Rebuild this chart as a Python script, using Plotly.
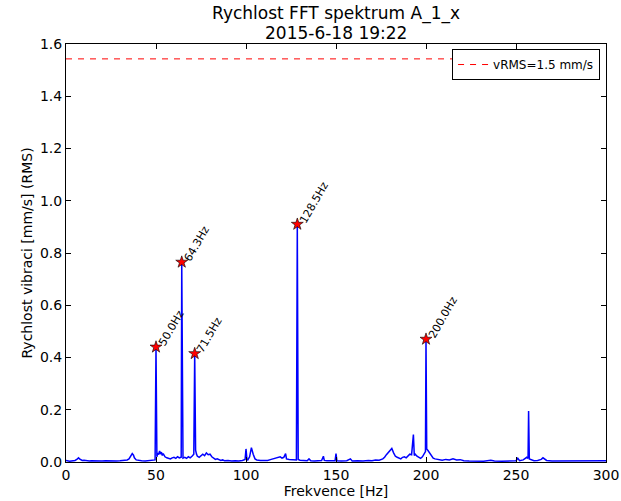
import plotly.graph_objects as go

# Spectrum (frequency [Hz], amplitude [mm/s RMS])
freq = [0.0, 1.0, 2.0, 3.0, 4.0, 5.0, 6.0, 7.0, 7.5, 8.0, 9.0, 10.0, 11.0, 12.0, 13.0, 14.0,
        16.0, 18.0, 20.0, 22.0, 24.0, 26.0, 28.0, 30.0, 32.0, 34.0, 35.0, 36.0, 36.8, 37.5,
        38.0, 39.0, 40.0, 42.0, 44.0, 46.0, 48.0, 49.5, 50.0, 50.5, 51.0, 51.5, 52.0, 52.5,
        53.0, 53.5, 54.0, 55.0, 56.0, 57.0, 58.0, 59.0, 60.0, 61.0, 62.0, 63.0, 64.0, 64.3,
        64.6, 65.0, 66.0, 67.0, 68.0, 69.0, 70.0, 71.0, 71.5, 72.0, 72.5, 73.0, 74.0, 75.0,
        76.0, 77.0, 78.0, 79.0, 80.0, 81.0, 82.0, 83.0, 84.0, 85.0, 86.0, 87.0, 88.0, 90.0,
        92.0, 94.0, 96.0, 98.0, 99.5, 100.0, 100.5, 101.0, 102.0, 103.0, 103.5, 104.0, 105.0,
        106.0, 108.0, 110.0, 112.0, 114.0, 116.0, 118.0, 119.0, 120.0, 121.0, 122.0, 122.5,
        124.0, 126.0, 128.0, 128.5, 129.0, 130.0, 132.0, 134.0, 135.0, 136.0, 138.0, 140.0,
        142.0, 143.0, 143.5, 145.0, 148.0, 149.5, 150.0, 150.5, 153.0, 156.0, 158.0, 159.0,
        162.0, 165.0, 168.0, 170.0, 172.0, 174.0, 176.0, 177.0, 178.0, 179.0, 180.0, 181.0,
        182.0, 183.0, 184.0, 185.0, 186.0, 187.0, 188.0, 189.0, 190.0, 191.0, 192.0, 193.0,
        193.5, 194.0, 195.0, 196.0, 197.0, 198.0, 199.0, 199.7, 200.0, 200.4, 201.0, 202.0,
        203.0, 204.0, 205.0, 207.0, 209.0, 211.0, 213.0, 215.0, 217.0, 219.0, 221.0, 224.0,
        228.0, 232.0, 236.0, 238.0, 242.0, 246.0, 250.0, 251.0, 252.0, 254.0, 255.0, 256.0,
        256.7, 257.0, 257.4, 258.0, 260.0, 262.0, 264.0, 265.0, 266.0, 267.0, 270.0, 275.0,
        280.0, 285.0, 290.0, 295.0, 300.0]
amp = [0.006, 0.004, 0.003, 0.004, 0.005, 0.006, 0.010, 0.016, 0.012, 0.009, 0.006, 0.007,
       0.005, 0.006, 0.004, 0.005, 0.004, 0.005, 0.004, 0.005, 0.004, 0.005, 0.004, 0.005,
       0.006, 0.008, 0.012, 0.022, 0.032, 0.026, 0.016, 0.008, 0.006, 0.005, 0.004, 0.005,
       0.006, 0.008, 0.44, 0.020, 0.035, 0.028, 0.042, 0.030, 0.038, 0.025, 0.032, 0.020,
       0.016, 0.014, 0.012, 0.016, 0.018, 0.014, 0.020, 0.016, 0.018, 0.765, 0.020, 0.015,
       0.018, 0.014, 0.020, 0.016, 0.022, 0.030, 0.415, 0.045, 0.030, 0.022, 0.018, 0.026,
       0.030, 0.024, 0.035, 0.028, 0.030, 0.020, 0.015, 0.010, 0.012, 0.008, 0.006, 0.008,
       0.005, 0.006, 0.004, 0.005, 0.004, 0.006, 0.010, 0.050, 0.012, 0.008, 0.020, 0.055,
       0.040, 0.030, 0.012, 0.008, 0.006, 0.005, 0.006, 0.010, 0.014, 0.016, 0.020, 0.015,
       0.018, 0.032, 0.012, 0.010, 0.008, 0.008, 0.91, 0.010, 0.007, 0.006, 0.005, 0.012,
       0.005, 0.004, 0.005, 0.006, 0.022, 0.006, 0.005, 0.004, 0.005, 0.032, 0.005, 0.004,
       0.005, 0.012, 0.004, 0.005, 0.004, 0.006, 0.005, 0.008, 0.007, 0.012, 0.018, 0.028,
       0.035, 0.045, 0.052, 0.035, 0.022, 0.018, 0.014, 0.012, 0.018, 0.020, 0.016, 0.025,
       0.030, 0.028, 0.105, 0.025, 0.030, 0.022, 0.018, 0.014, 0.020, 0.030, 0.040, 0.47,
       0.050, 0.045, 0.035, 0.025, 0.015, 0.012, 0.008, 0.007, 0.010, 0.008, 0.012, 0.008,
       0.009, 0.005, 0.004, 0.004, 0.003, 0.007, 0.004, 0.003, 0.004, 0.005, 0.014, 0.005,
       0.008, 0.015, 0.018, 0.014, 0.195, 0.012, 0.010, 0.005, 0.006, 0.010, 0.016, 0.012,
       0.006, 0.004, 0.004, 0.003, 0.004, 0.003, 0.004, 0.005]

peak_freq = [50.0, 64.3, 71.5, 128.5, 200.0]
peak_amp = [0.44, 0.765, 0.415, 0.91, 0.47]
peak_labels = ["50.0Hz", "64.3Hz", "71.5Hz", "128.5Hz", "200.0Hz"]

rms_level = [1.543, 1.543]
rms_x = [0, 300]
rms_label = "vRMS=1.5 mm/s"

x_ticks = [0, 50, 100, 150, 200, 250, 300]
y_ticks = [0.0, 0.2, 0.4, 0.6, 0.8, 1.0, 1.2, 1.4, 1.6]

title_lines = ["Rychlost FFT spektrum A_1_x", "2015-6-18 19:22"]

FONT = "DejaVu Sans"

fig = go.Figure()
fig.add_trace(go.Scatter(x=freq, y=amp, mode="lines",
                         line=dict(color="#0000ff", width=1.5), showlegend=False,
                         hoverinfo="skip"))
fig.add_trace(go.Scatter(x=rms_x, y=rms_level, mode="lines", name=rms_label,
                         line=dict(color="#ff0000", width=1, dash="6px,6px")))
fig.add_trace(go.Scatter(x=peak_freq, y=peak_amp, mode="markers", showlegend=False,
                         marker=dict(symbol="star", size=9, color="#ff0000",
                                     line=dict(color="black", width=0.6))))

for f, a, t in zip(peak_freq, peak_amp, peak_labels):
    fig.add_annotation(x=f, y=a, text=t, showarrow=False, textangle=-60,
                       xanchor="left", yanchor="bottom", xshift=-3, yshift=-4,
                       font=dict(family=FONT, size=11, color="black"))

# Two-line title as paper annotations
fig.add_annotation(xref="paper", yref="paper", x=0.5, y=1 + 31 / 418, text=title_lines[0],
                   showarrow=False, xanchor="center", yanchor="middle",
                   font=dict(family=FONT, size=17, color="black"))
fig.add_annotation(xref="paper", yref="paper", x=0.5, y=1 + 11 / 418, text=title_lines[1],
                   showarrow=False, xanchor="center", yanchor="middle",
                   font=dict(family=FONT, size=17, color="black"))

axis_common = dict(showgrid=False, zeroline=False, showline=True, linecolor="black",
                   linewidth=1, mirror="ticks", ticks="inside", ticklen=5,
                   tickcolor="black", automargin=False,
                   tickfont=dict(family=FONT, size=14, color="black"))

fig.update_layout(
    width=621, height=501,
    margin=dict(l=66, r=15, t=44, b=39),
    paper_bgcolor="white", plot_bgcolor="white",
    font=dict(family=FONT, color="black"),
    xaxis=dict(range=[0, 300], tickvals=x_ticks,
               title=dict(text="Frekvence [Hz]", font=dict(family=FONT, size=14), standoff=4),
               **axis_common),
    yaxis=dict(range=[0, 1.6], tickvals=y_ticks, tickformat=".1f",
               title=dict(text="Rychlost vibraci [mm/s] (RMS)", font=dict(family=FONT, size=14),
                          standoff=4),
               **axis_common),
    legend=dict(x=0.989, y=0.988, xanchor="right", yanchor="top",
                bordercolor="black", borderwidth=1, bgcolor="white", itemwidth=30,
                font=dict(family=FONT, size=12)),
)

fig.write_html("out.html", config={"displayModeBar": False},
               post_script="document.body.style.margin='0';document.body.style.overflow='hidden';")
